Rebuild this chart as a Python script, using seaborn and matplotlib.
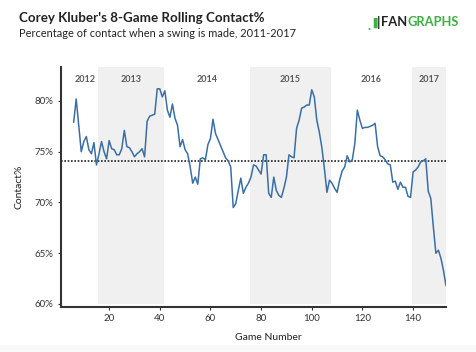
import matplotlib
matplotlib.use("Agg")
import matplotlib.pyplot as plt
import seaborn as sns
import pandas as pd
from matplotlib.patches import Rectangle

# ---- data ----
contact_pct = [
    77.9, 80.2, 77.6, 75.0, 76.0, 76.5, 75.2, 74.8, 75.9, 73.7,   # 6-15
    74.8, 76.0, 75.0, 74.3, 76.1, 75.3, 75.2, 74.7, 74.7, 75.3,   # 16-25
    77.1, 75.5, 75.4, 75.0, 74.5, 74.8, 75.0, 75.3, 74.5, 78.0,   # 26-35
    78.5, 78.6, 78.7, 81.2, 81.2, 80.4, 81.0, 79.1, 78.4, 79.7,   # 36-45
    78.3, 77.6, 75.5, 76.2, 75.2, 74.8, 73.5, 71.9, 72.5, 71.8,   # 46-55
    74.3, 74.4, 74.2, 75.7, 76.3, 78.2, 76.8, 76.2, 75.6, 75.0,   # 56-65
    74.4, 74.1, 73.5, 69.5, 69.9, 71.2, 72.4, 70.9, 71.5, 71.9,   # 66-75
    72.5, 73.7, 73.6, 73.2, 72.8, 74.7, 74.7, 70.9, 70.5, 72.5,   # 76-85
    71.2, 70.7, 70.5, 71.4, 72.5, 74.7, 74.5, 74.4, 77.3, 78.1,   # 86-95
    79.3, 79.4, 79.6, 79.6, 81.1, 80.4, 78.1, 76.9, 75.4, 73.3,   # 96-105
    71.0, 72.2, 71.9, 71.4, 71.0, 72.2, 73.1, 73.5, 74.6, 74.0,   # 106-115
    74.2, 75.8, 79.1, 78.1, 77.3, 77.4, 77.4, 77.5, 77.6, 77.8,   # 116-125
    75.5, 74.6, 74.5, 74.2, 73.8, 73.7, 72.0, 72.1, 71.3, 72.0,   # 126-135
    71.5, 71.5, 70.6, 70.5, 73.0, 73.2, 73.5, 74.0, 74.1, 74.3,   # 136-145
    71.1, 70.4, 67.6, 65.0, 65.3, 64.5, 63.3, 61.8,               # 146-153
]
first_game = 6
games = list(range(first_game, first_game + len(contact_pct)))

career_avg = 74.1

seasons = ["2012", "2013", "2014", "2015", "2016", "2017"]
season_starts = [5.5, 15.5, 41.5, 75.5, 107.5, 139.5]
season_ends = [15.5, 41.5, 75.5, 107.5, 139.5, 153.0]
shaded = [False, True, False, True, False, True]

x_ticks = [20, 40, 60, 80, 100, 120, 140]
y_ticks = [60, 65, 70, 75, 80]

df = pd.DataFrame({"Game Number": games, "Contact%": contact_pct})

# ---- style ----
sns.set_theme(style="white")
plt.rcParams["font.family"] = ["Lato", "DejaVu Sans"]

fig = plt.figure(figsize=(4.76, 3.52), dpi=100)
fig.patches.append(Rectangle((0, 0), 1, 7 / 352, transform=fig.transFigure,
                             facecolor="#f8f8f8", edgecolor="none", zorder=0))
ax = fig.add_axes([61 / 476, 1 - 306.7 / 352, (446 - 61) / 476, (306.7 - 67.3) / 352])

y_lo, y_hi = 59.73, 83.32
x_lo, x_hi = 1.0, 153.0
ax.set_xlim(x_lo, x_hi)
ax.set_ylim(y_lo, y_hi)

frac60 = (60 - y_lo) / (y_hi - y_lo)
for s, e, sh in zip(season_starts, season_ends, shaded):
    if sh:
        ax.axvspan(s, e, ymin=frac60, ymax=1, color="#f0f0f0", lw=0, zorder=0)

for name, s, e in zip(seasons, season_starts, season_ends):
    ax.text((s + e) / 2, 82.15, name, ha="center", va="center",
            fontsize=6.5, color="#5a5a5a", fontweight="bold")

ax.axhline(career_avg, color="#222222", ls=(0, (1, 1)), lw=1.2, zorder=2)

sns.lineplot(data=df, x="Game Number", y="Contact%", ax=ax,
             color="#3b6ea5", lw=1.1, zorder=3)

ax.set_xticks(x_ticks)
ax.set_yticks(y_ticks)
ax.set_yticklabels([f"{v}%" for v in y_ticks])
ax.tick_params(axis="both", labelsize=7, colors="#333333", length=2.5, width=0.8,
               direction="out", pad=3, bottom=True, left=True)
for side in ["top", "right"]:
    ax.spines[side].set_visible(False)
for side in ["left", "bottom"]:
    ax.spines[side].set_color("#333333")
    ax.spines[side].set_linewidth(1.5)

ax.set_xlabel("")
ax.set_ylabel("Contact%", fontsize=7.5, color="#222222", labelpad=8)
fig.text(268.5 / 476, 1 - 337.7 / 352, "Game Number", ha="center", va="center",
         fontsize=7.5, color="#222222")

# ---- titles ----
fig.text(19 / 476, 1 - 18.5 / 352, "Corey Kluber's 8-Game Rolling Contact%",
         ha="left", va="center", fontsize=9.6, fontweight="bold", color="#222222")
fig.text(19 / 476, 1 - 33.5 / 352, "Percentage of contact when a swing is made, 2011-2017",
         ha="left", va="center", fontsize=7.9, color="#222222")

# ---- logo ----
logo_y = 1 - 22.5 / 352
t_gr = fig.text(459 / 476, logo_y, "GRAPHS", ha="right", va="center",
                fontsize=9.3, fontweight="bold", color="#3cb043")
fig.canvas.draw()
r = fig.canvas.get_renderer()
bb = t_gr.get_window_extent(r)
t_fan = fig.text(bb.x0 / 476, logo_y, "FAN", ha="right", va="center",
                 fontsize=9.3, fontweight="bold", color="#222222")
bb2 = t_fan.get_window_extent(r)
fig.text(bb2.x0 / 476 - 1 / 476, logo_y, "|", ha="right", va="center",
         fontsize=9.5, fontweight="bold", color="#222222")
fig.text(bb2.x0 / 476 - 5 / 476, logo_y, "\u2590", ha="right", va="center",
         fontsize=7, color="#3cb043", family=["DejaVu Sans"])
fig.text(bb2.x0 / 476 - 11 / 476, logo_y - 3 / 352, ".", ha="right", va="center",
         fontsize=9.5, fontweight="bold", color="#3cb043")

fig.savefig("out.png", dpi=100)
